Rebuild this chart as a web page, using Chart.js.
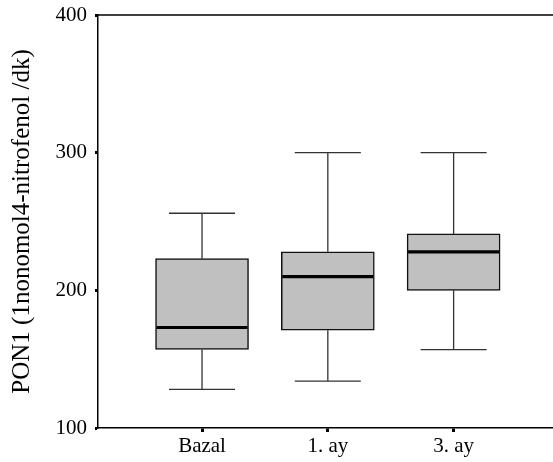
<!DOCTYPE html>
<html>
<head>
<meta charset="utf-8">
<script src="https://cdn.jsdelivr.net/npm/chart.js@4/dist/chart.umd.min.js"></script>
<style>
html,body{margin:0;padding:0;background:#fff;}
#wrap{width:553px;height:462px;position:relative;}
</style>
</head>
<body>
<div id="wrap"><canvas id="c" width="553" height="462"></canvas></div>
<script>
const categories = ['Bazal', '1. ay', '3. ay'];
const whiskerLow = [128, 134, 157];
const quartile1 = [157, 171, 200];
const medians = [173, 210, 228];
const quartile3 = [223, 228, 241];
const whiskerHigh = [256, 300, 300];
const yTicks = [100, 200, 300, 400];

const positions = categories.map((c, i) => i + 1);

const boxPlugin = {
  id: 'boxExtras',
  afterDatasetsDraw(chart) {
    const ctx = chart.ctx;
    const xs = chart.scales.x, ys = chart.scales.y;
    const meta = chart.getDatasetMeta(0);
    ctx.save();
    positions.forEach((p, i) => {
      const bar = meta.data[i];
      const cx = xs.getPixelForValue(p);
      const half = bar.width / 2;
      const capHalf = half * 0.71;
      const yLo = ys.getPixelForValue(whiskerLow[i]);
      const yQ1 = ys.getPixelForValue(quartile1[i]);
      const yQ3 = ys.getPixelForValue(quartile3[i]);
      const yHi = ys.getPixelForValue(whiskerHigh[i]);
      const yMed = ys.getPixelForValue(medians[i]);
      ctx.strokeStyle = '#333';
      ctx.lineWidth = 1.3;
      ctx.beginPath();
      ctx.moveTo(cx, yQ3); ctx.lineTo(cx, yHi);
      ctx.moveTo(cx - capHalf, yHi); ctx.lineTo(cx + capHalf, yHi);
      ctx.moveTo(cx, yQ1); ctx.lineTo(cx, yLo);
      ctx.moveTo(cx - capHalf, yLo); ctx.lineTo(cx + capHalf, yLo);
      ctx.stroke();
      ctx.strokeStyle = '#000';
      ctx.lineWidth = 3.2;
      ctx.beginPath();
      ctx.moveTo(cx - half + 1, yMed); ctx.lineTo(cx + half - 1, yMed);
      ctx.stroke();
    });
    const ca = chart.chartArea;
    ctx.strokeStyle = '#000';
    ctx.lineWidth = 1.5;
    ctx.beginPath();
    ctx.moveTo(ca.left, ca.top); ctx.lineTo(chart.width, ca.top);
    ctx.stroke();
    ctx.restore();
  }
};

new Chart(document.getElementById('c'), {
  type: 'bar',
  data: {
    datasets: [{
      data: positions.map((p, i) => ({ x: p, y: [quartile1[i], quartile3[i]] })),
      backgroundColor: '#c0c0c0',
      borderColor: '#111',
      borderWidth: 1.5,
      borderSkipped: false,
      barThickness: 93
    }]
  },
  options: {
    responsive: false,
    animation: false,
    layout: { padding: { top: 0, right: 0, left: 0, bottom: 0 } },
    plugins: { legend: { display: false }, tooltip: { enabled: false } },
    scales: {
      x: {
        type: 'linear',
        offset: false,
        min: 0.173,
        max: 3.79,
        afterBuildTicks(scale) { scale.ticks = positions.map(v => ({ value: v })); },
        afterFit(scale) { scale.height = 34; },
        ticks: {
          callback: (v) => categories[Math.round(v) - 1] || '',
          color: '#000',
          font: { family: 'Liberation Serif', size: 21 },
          padding: 2,
          maxRotation: 0,
          autoSkip: false
        },
        grid: { offset: false, drawOnChartArea: false, tickLength: 4, tickWidth: 3, tickColor: '#000' },
        border: { display: true, color: '#000', width: 1.5 }
      },
      y: {
        min: 100,
        max: 400,
        afterBuildTicks(scale) { scale.ticks = yTicks.map(v => ({ value: v })); },
        afterFit(scale) { scale.width = 98; scale.paddingTop = 15; scale.paddingBottom = 0; },
        ticks: {
          color: '#000',
          font: { family: 'Liberation Serif', size: 21 },
          padding: 8
        },
        grid: { drawOnChartArea: false, tickLength: 3, tickWidth: 3, tickColor: '#000' },
        border: { display: true, color: '#000', width: 1.5 },
        title: {
          display: true,
          text: 'PON1 (1nonomol4-nitrofenol /dk)',
          color: '#000',
          font: { family: 'Liberation Serif', size: 25 },
          padding: { top: 7, bottom: 0 }
        }
      }
    }
  },
  plugins: [boxPlugin]
});
</script>
</body>
</html>
